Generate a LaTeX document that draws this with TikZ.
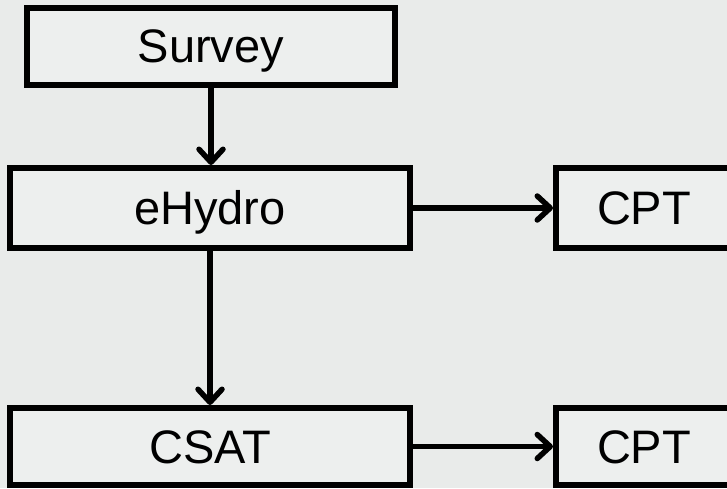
\documentclass[tikz,border=0pt]{standalone}
\usepackage{fontspec}
\setmainfont{Liberation Sans}
\usetikzlibrary{arrows.meta}
\definecolor{bgc}{RGB}{233,235,234}
\definecolor{boxc}{RGB}{237,239,238}
\begin{document}
\begin{tikzpicture}[x=1pt,y=1pt,
  flowbox/.style={draw=black, line width=6pt, fill=boxc, rectangle, inner sep=0pt,
    text height=33pt, text depth=0pt, font=\fontsize{47}{50}\selectfont},
  flowarrow/.style={line width=5.5pt, -{Straight Barb[length=13pt,width=24pt,round]}}]
\useasboundingbox (0,0) rectangle (727,488);
\clip (0,0) rectangle (727,488);
\fill[bgc] (0,0) rectangle (727,488);
\node[flowbox, minimum width=368pt, minimum height=77pt] (survey) at (211,441.5) {Survey};
\node[flowbox, minimum width=400pt, minimum height=80pt] (ehydro) at (210,280) {eHydro};
\node[flowbox, minimum width=176pt, minimum height=80pt] (cpt1) at (644,280) {CPT};
\node[flowbox, minimum width=400pt, minimum height=77pt] (csat) at (210,41.5) {CSAT};
\node[flowbox, minimum width=176pt, minimum height=77pt] (cpt2) at (644,41.5) {CPT};
\draw[flowarrow] (survey.south) -- (survey.south |- ehydro.north);
\draw[flowarrow] (ehydro.south) -- (csat.north);
\draw[flowarrow] (ehydro.east) -- (cpt1.west);
\draw[flowarrow] (csat.east) -- (cpt2.west);
\end{tikzpicture}
\end{document}
